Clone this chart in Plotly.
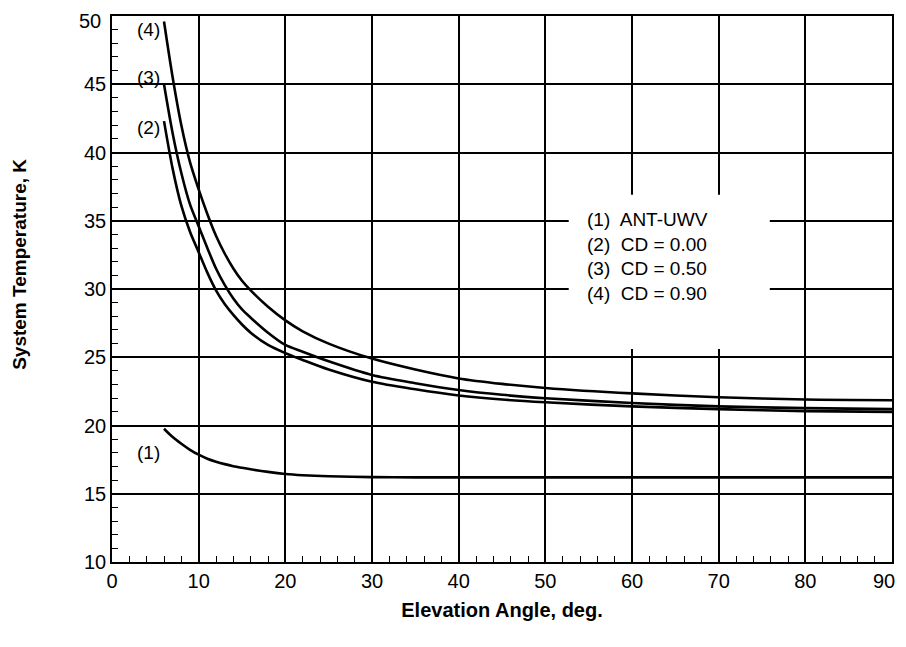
import plotly.graph_objects as go

# elevation angle, deg (one x grid per curve)
elev = [6, 7, 8, 9, 10, 11, 12, 13, 14, 15, 16, 18, 20, 22, 25, 30, 35, 40, 45, 50, 60, 70, 80, 90]

# system temperature, K
t_ant_uwv = [19.76, 19.15, 18.66, 18.22, 17.86, 17.57, 17.35, 17.17, 17.02, 16.9, 16.79, 16.6,
             16.45, 16.36, 16.28, 16.22, 16.2, 16.2, 16.2, 16.2, 16.2, 16.2, 16.2, 16.2]
t_cd000 = [42.3, 38.8, 36.1, 34.2, 32.7, 31.2, 29.9, 28.9, 28.1, 27.4, 26.8, 25.9,
           25.3, 24.8, 24.1, 23.2, 22.65, 22.2, 21.9, 21.7, 21.4, 21.2, 21.05, 21.0]
t_cd050 = [45.0, 41.4, 38.5, 36.2, 34.6, 33.0, 31.5, 30.3, 29.3, 28.5, 27.9, 26.8,
           25.9, 25.4, 24.7, 23.7, 23.1, 22.6, 22.25, 22.0, 21.65, 21.4, 21.27, 21.2]
t_cd090 = [49.6, 45.5, 42.0, 39.3, 37.3, 35.5, 33.9, 32.6, 31.5, 30.6, 29.9, 28.7,
           27.7, 26.9, 26.0, 24.9, 24.1, 23.45, 23.05, 22.75, 22.35, 22.07, 21.9, 21.85]

x_ticks = [0, 10, 20, 30, 40, 50, 60, 70, 80, 90]
y_ticks = [10, 15, 20, 25, 30, 35, 40, 45, 50]

series = [t_ant_uwv, t_cd000, t_cd050, t_cd090]
curve_tags = ["(1)", "(2)", "(3)", "(4)"]
legend_lines = ["(1)  ANT-UWV", "(2)  CD = 0.00", "(3)  CD = 0.50", "(4)  CD = 0.90"]

font_main = "Liberation Sans, Arial, sans-serif"

fig = go.Figure()

for ys in series:
    fig.add_trace(go.Scatter(
        x=elev, y=ys,
        mode="lines",
        line=dict(color="black", width=2.6, shape="spline", smoothing=0.8),
        showlegend=False,
        hoverinfo="skip"
    ))

# curve tags next to the start of each curve
tag_pos = [(4.2, 18.0), (4.2, 41.8), (4.2, 45.5), (4.2, 49.0)]
for txt, (lx, ly) in zip(curve_tags, tag_pos):
    fig.add_annotation(x=lx, y=ly, text=txt, showarrow=False,
                       font=dict(size=19, color="black", family=font_main))

# legend block: white patch over the grid, then the text
fig.add_shape(type="rect", xref="x", yref="y",
              x0=52.7, x1=75.9, y0=25.6, y1=36.9,
              fillcolor="white", line=dict(width=0), layer="above")
fig.add_annotation(
    x=54.6, y=32.4, xanchor="left", yanchor="middle",
    text="<br>".join(legend_lines), align="left", showarrow=False,
    font=dict(size=19, color="black", family=font_main)
)

# y title sits a bit above the middle in the original
fig.add_annotation(
    xref="paper", yref="paper", x=-0.118, y=0.546, xanchor="center", yanchor="middle",
    text="<b>System Temperature, K</b>", textangle=-90, showarrow=False,
    font=dict(size=19, color="black", family=font_main)
)

# end labels drawn by hand so they stay inside the page
fig.add_annotation(
    xref="paper", yref="paper", x=1.007, y=0, xanchor="right", yanchor="top", yshift=-6,
    text=str(x_ticks[-1]), showarrow=False,
    font=dict(size=20, color="black", family=font_main)
)
fig.add_annotation(
    xref="paper", yref="paper", x=0, y=1, xanchor="right", yanchor="top",
    xshift=-9, yshift=8,
    text=str(y_ticks[-1]), showarrow=False,
    font=dict(size=20, color="black", family=font_main)
)

# page body has an 8px margin, so size the figure to that
fig.update_layout(
    width=898, height=631,
    margin=dict(l=104, r=14, t=8, b=77),
    paper_bgcolor="white",
    plot_bgcolor="white",
    font=dict(family=font_main, color="black"),
)

fig.update_xaxes(
    range=[0, 90], tickvals=x_ticks, ticktext=[str(v) for v in x_ticks[:-1]] + [""],
    automargin=False, ticklabeloverflow="allow",
    showgrid=True, gridcolor="black", gridwidth=1.5,
    showline=True, linecolor="black", linewidth=1.5, mirror=True,
    ticks="inside", ticklen=6, tickcolor="black",
    tickfont=dict(size=20),
    minor=dict(dtick=2, ticks="inside", ticklen=6, tickcolor="black", showgrid=False),
    title=dict(text="<b>Elevation Angle, deg.</b>", font=dict(size=20), standoff=12),
    zeroline=False
)
fig.update_yaxes(
    range=[10, 50], tickvals=y_ticks, ticktext=[str(v) for v in y_ticks[:-1]] + [""],
    automargin=False, ticklabeloverflow="allow",
    showgrid=True, gridcolor="black", gridwidth=1.5,
    showline=True, linecolor="black", linewidth=1.5, mirror=True,
    ticks="inside", ticklen=6, tickcolor="black",
    tickfont=dict(size=20),
    minor=dict(dtick=1, ticks="inside", ticklen=6, tickcolor="black", showgrid=False),
    zeroline=False
)

fig.write_html("out.html")
